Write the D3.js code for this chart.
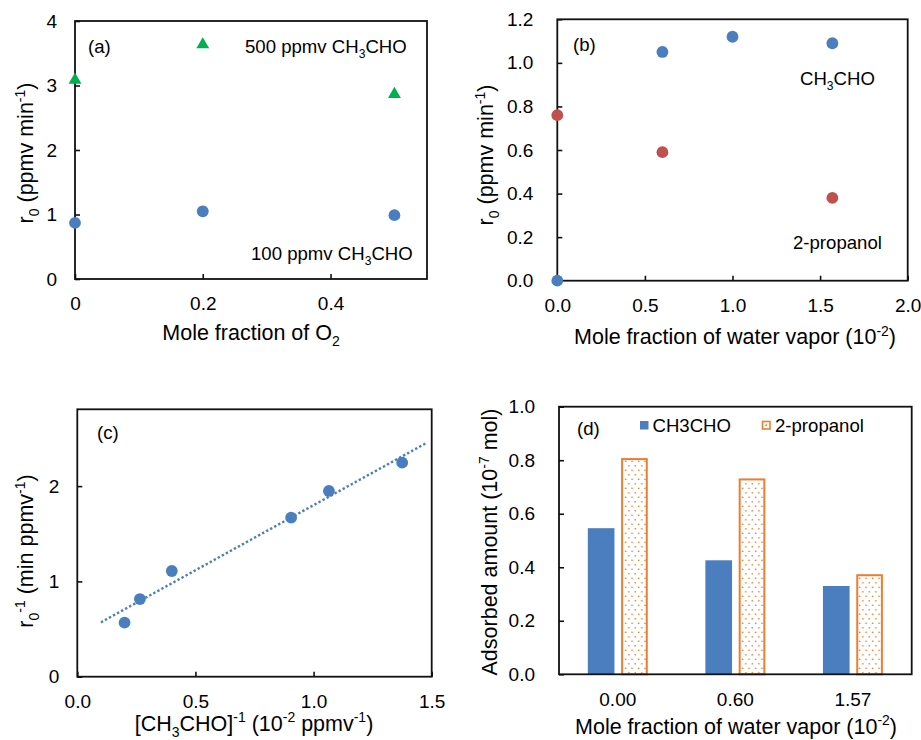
<!DOCTYPE html>
<html>
<head>
<meta charset="utf-8">
<script src="https://cdn.jsdelivr.net/npm/d3@7/dist/d3.min.js"></script>
<style>
  html, body { margin: 0; padding: 0; background: #fff; }
  svg { display: block; font-family: "Liberation Sans", Arial, sans-serif; }
</style>
</head>
<body>
<svg id="chart" width="921" height="740"></svg>
<script>
// ---------- DATA ----------
// (a) r0 vs O2 mole fraction
const o2Frac = [0, 0.2, 0.5];
const r0High = [3.10, 3.65, 2.88];   // 500 ppmv CH3CHO
const r0Low  = [0.87, 1.05, 0.99];   // 100 ppmv CH3CHO
const aXTicks = [0, 0.2, 0.4];
const aYTicks = [0, 1, 2, 3, 4];

// (b) r0 vs water vapour mole fraction
const waterFracAcet = [0, 0.6, 1.0, 1.57];
const r0Acet = [0.00, 1.05, 1.12, 1.09];
const waterFracProp = [0, 0.6, 1.57];
const r0Prop = [0.76, 0.59, 0.38];
const bXTicks = [0, 0.5, 1.0, 1.5, 2.0];
const bYTicks = [0, 0.2, 0.4, 0.6, 0.8, 1.0, 1.2];

// (c) 1/r0 vs 1/[CH3CHO]
const invConc = [0.20, 0.265, 0.40, 0.905, 1.065, 1.375];
const invR0   = [0.567, 0.815, 1.109, 1.669, 1.949, 2.246];
const trendXRange = [0.10, 1.48];
const cXTicks = [0, 0.5, 1.0, 1.5];
const cYTicks = [0, 1, 2];

// (d) adsorbed amount
const waterCats = ["0.00", "0.60", "1.57"];
const adsAcet = [0.546, 0.426, 0.330];
const adsProp = [0.808, 0.732, 0.374];
const dSeries = ["CH3CHO", "2-propanol"];
const dYTicks = [0, 0.2, 0.4, 0.6, 0.8, 1.0];

// ---------- STYLE ----------
const BLUE = "#4A7EBF", RED = "#C0504D", GREEN = "#00B050", ORANGE = "#ED7D31";
const TICK_FS = 19, TITLE_FS = 21.5, NOTE_FS = 18.6;

const svg = d3.select("#chart");

// dotted pattern for 2-propanol bars
const defs = svg.append("defs");
const pat = defs.append("pattern").attr("id", "dots").attr("patternUnits", "userSpaceOnUse")
  .attr("width", 6.5).attr("height", 9);
pat.append("rect").attr("width", 6.5).attr("height", 9).attr("fill", "#fff");
pat.append("circle").attr("cx", 1.6).attr("cy", 2.25).attr("r", 0.85).attr("fill", ORANGE);
pat.append("circle").attr("cx", 4.85).attr("cy", 6.75).attr("r", 0.85).attr("fill", ORANGE);

// rich text: segments [text, mode] with mode "", "sub", "sup"
function richText(sel, segs, fs) {
  let shift = 0;
  segs.forEach(([t, m]) => {
    const ts = sel.append("tspan").text(t);
    let target = 0, size = fs;
    if (m === "sub") { target = 0.28 * fs; size = 0.65 * fs; }
    if (m === "sup") { target = -0.38 * fs; size = 0.65 * fs; }
    ts.attr("font-size", size);
    if (target !== shift) { ts.attr("dy", target - shift); shift = target; }
  });
  return sel;
}

function frame(P) {
  svg.append("rect").attr("x", P.x0).attr("y", P.y0)
    .attr("width", P.x1 - P.x0).attr("height", P.y1 - P.y0)
    .attr("fill", "none").attr("stroke", "#111").attr("stroke-width", 1.8);
}

function styleAxis(g) {
  g.select(".domain").remove();
  g.selectAll(".tick line").attr("stroke", "#111").attr("stroke-width", 1.6);
  g.selectAll(".tick text").attr("fill", "#000").attr("font-size", TICK_FS)
    .attr("font-family", "Liberation Sans, Arial, sans-serif");
}

function xAxis(P, x, ticks, fmt, pad) {
  const g = svg.append("g").attr("transform", `translate(0,${P.y1})`)
    .call(d3.axisBottom(x).tickValues(ticks).tickFormat(fmt).tickSize(-5).tickPadding(pad));
  styleAxis(g);
  return g;
}
function yAxis(P, y, ticks, fmt, pad) {
  const g = svg.append("g").attr("transform", `translate(${P.x0},0)`)
    .call(d3.axisLeft(y).tickValues(ticks).tickFormat(fmt).tickSize(-5).tickPadding(pad));
  styleAxis(g);
  return g;
}
function yTitle(xb, cy, segs) {
  const t = svg.append("text").attr("transform", `translate(${xb},${cy}) rotate(-90)`)
    .attr("text-anchor", "middle").attr("font-size", TITLE_FS).attr("fill", "#000");
  richText(t, segs, TITLE_FS);
}
function xTitle(cx, yb, segs) {
  const t = svg.append("text").attr("x", cx).attr("y", yb)
    .attr("text-anchor", "middle").attr("font-size", TITLE_FS).attr("fill", "#000");
  richText(t, segs, TITLE_FS);
}
function note(x, y, segs, anchor) {
  const t = svg.append("text").attr("x", x).attr("y", y)
    .attr("text-anchor", anchor || "start").attr("font-size", NOTE_FS).attr("fill", "#000");
  richText(t, segs, NOTE_FS);
}

const fmt1 = d3.format(".1f");
const fmtA = d => String(d);

// ---------- (a) ----------
{
  const P = { x0: 75, x1: 427, y0: 21, y1: 279 };
  const x = d3.scaleLinear().domain([0, 0.551]).range([P.x0, P.x1]);
  const y = d3.scaleLinear().domain([0, 4]).range([P.y1, P.y0]);
  xAxis(P, x, aXTicks, fmtA, 17.5);
  yAxis(P, y, aYTicks, fmtA, 18);
  frame(P);
  const tri = d3.symbol().type(d3.symbolTriangle).size(72);
  svg.append("g").selectAll("path").data(o2Frac).join("path")
    .attr("d", tri).attr("fill", GREEN)
    .attr("transform", (d, i) => `translate(${x(d)},${y(r0High[i]) + 1})`);
  svg.append("g").selectAll("circle").data(o2Frac).join("circle")
    .attr("cx", d => x(d)).attr("cy", (d, i) => y(r0Low[i])).attr("r", 5.9).attr("fill", BLUE);
  note(88, 53, [["(a)", ""]]);
  note(245, 52.5, [["500 ppmv CH", ""], ["3", "sub"], ["CHO", ""]]);
  note(251, 260, [["100 ppmv CH", ""], ["3", "sub"], ["CHO", ""]]);
  yTitle(33, 153, [["r", ""], ["0", "sub"], [" (ppmv min", ""], ["-1", "sup"], [")", ""]]);
  xTitle(251, 340, [["Mole fraction of O", ""], ["2", "sub"]]);
}

// ---------- (b) ----------
{
  const P = { x0: 557.3, x1: 907.7, y0: 19.3, y1: 280.7 };
  const x = d3.scaleLinear().domain([0, 2]).range([P.x0, P.x1]);
  const y = d3.scaleLinear().domain([0, 1.2]).range([P.y1, P.y0]);
  xAxis(P, x, bXTicks, fmt1, 17.5);
  yAxis(P, y, bYTicks, fmt1, 24);
  frame(P);
  svg.append("g").selectAll("circle").data(waterFracProp).join("circle")
    .attr("cx", d => x(d)).attr("cy", (d, i) => y(r0Prop[i])).attr("r", 5.9).attr("fill", RED);
  svg.append("g").selectAll("circle").data(waterFracAcet).join("circle")
    .attr("cx", d => x(d)).attr("cy", (d, i) => y(r0Acet[i])).attr("r", 5.9).attr("fill", BLUE);
  note(573, 51, [["(b)", ""]]);
  note(800, 85, [["CH", ""], ["3", "sub"], ["CHO", ""]]);
  note(793, 248.5, [["2-propanol", ""]]);
  yTitle(493, 155, [["r", ""], ["0", "sub"], [" (ppmv min", ""], ["-1", "sup"], [")", ""]]);
  xTitle(735, 344, [["Mole fraction of water vapor (10", ""], ["-2", "sup"], [")", ""]]);
}

// ---------- (c) ----------
{
  const P = { x0: 77.3, x1: 431.7, y0: 409.3, y1: 676.7 };
  const x = d3.scaleLinear().domain([0, 1.5]).range([P.x0, P.x1]);
  const y = d3.scaleLinear().domain([0, 2.806]).range([P.y1, P.y0]);
  xAxis(P, x, cXTicks, fmt1, 17.5);
  yAxis(P, y, cYTicks, fmtA, 18);
  frame(P);
  // least-squares trend line from the data
  const mx = d3.mean(invConc), my = d3.mean(invR0);
  const sxy = d3.sum(invConc, (v, i) => (v - mx) * (invR0[i] - my));
  const sxx = d3.sum(invConc, v => (v - mx) * (v - mx));
  const slope = sxy / sxx, icpt = my - slope * mx;
  svg.append("path")
    .attr("d", d3.line().x(d => x(d)).y(d => y(icpt + slope * d))(trendXRange))
    .attr("fill", "none").attr("stroke", BLUE).attr("stroke-width", 2.4)
    .attr("stroke-dasharray", "2.4,2.2");
  svg.append("g").selectAll("circle").data(invConc).join("circle")
    .attr("cx", d => x(d)).attr("cy", (d, i) => y(invR0[i])).attr("r", 5.9).attr("fill", BLUE);
  note(97, 439, [["(c)", ""]]);
  yTitle(33, 551, [["r", ""], ["0", "sub"], ["-1", "sup"], [" (min ppmv", ""], ["-1", "sup"], [")", ""]]);
  xTitle(254, 730.5, [["[CH", ""], ["3", "sub"], ["CHO]", ""], ["-1", "sup"], [" (10", ""], ["-2", "sup"], [" ppmv", ""], ["-1", "sup"], [")", ""]]);
}

// ---------- (d) ----------
{
  const P = { x0: 559, x1: 911.7, y0: 406.7, y1: 674.3 };
  const x0 = d3.scaleBand().domain(waterCats).range([P.x0, P.x1]).padding(0);
  const bw = x0.bandwidth();
  const x1 = d3.scaleBand().domain(dSeries).range([bw * 0.245, bw * 0.755]).paddingInner(0.2);
  const y = d3.scaleLinear().domain([0, 1]).range([P.y1, P.y0]);
  yAxis(P, y, dYTicks, fmt1, 24);
  const gx = svg.append("g").attr("transform", `translate(0,${P.y1})`)
    .call(d3.axisBottom(x0).tickSize(0).tickPadding(18));
  styleAxis(gx);
  svg.append("g").selectAll("rect").data(waterCats).join("rect")
    .attr("x", d => x0(d) + x1("CH3CHO")).attr("width", x1.bandwidth())
    .attr("y", (d, i) => y(adsAcet[i])).attr("height", (d, i) => P.y1 - y(adsAcet[i]))
    .attr("fill", BLUE);
  svg.append("g").selectAll("rect").data(waterCats).join("rect")
    .attr("x", d => x0(d) + x1("2-propanol") + 1).attr("width", x1.bandwidth() - 2)
    .attr("y", (d, i) => y(adsProp[i]) + 1).attr("height", (d, i) => P.y1 - y(adsProp[i]) - 1)
    .attr("fill", "url(#dots)").attr("stroke", ORANGE).attr("stroke-width", 2);
  frame(P);
  // legend
  svg.append("rect").attr("x", 640).attr("y", 421).attr("width", 8.5).attr("height", 8.5).attr("fill", BLUE);
  svg.append("text").attr("x", 652.5).attr("y", 431.5).attr("font-size", NOTE_FS).text(dSeries[0]);
  svg.append("rect").attr("x", 762.5).attr("y", 421.5).attr("width", 7.5).attr("height", 7.5)
    .attr("fill", "#fff").attr("stroke", ORANGE).attr("stroke-width", 1.6);
  svg.append("circle").attr("cx", 766.25).attr("cy", 425.25).attr("r", 1).attr("fill", ORANGE);
  svg.append("text").attr("x", 775).attr("y", 431.5).attr("font-size", NOTE_FS).text(dSeries[1]);
  note(577, 435, [["(d)", ""]]);
  yTitle(497, 542, [["Adsorbed amount (10", ""], ["-7", "sup"], [" mol)", ""]]);
  xTitle(736, 733.5, [["Mole fraction of water vapor (10", ""], ["-2", "sup"], [")", ""]]);
}
</script>
</body>
</html>
